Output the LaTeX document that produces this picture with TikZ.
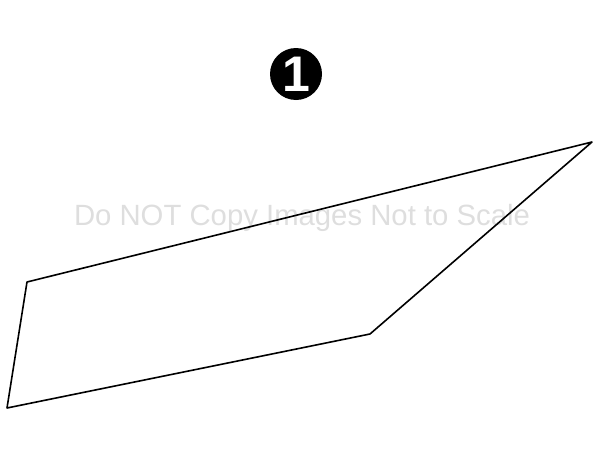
\documentclass[tikz,border=0pt]{standalone}
\usepackage{fontspec}
\setmainfont{Liberation Sans}
\usepackage{tikz}
\usetikzlibrary{positioning}
\tikzstyle{partnum} = [circle, fill=black, text=white, inner sep=0pt,
    minimum size=52pt, font=\fontsize{50}{50}\selectfont\bfseries]
\tikzstyle{stamp} = [text=black!13, font=\fontsize{29.3}{30}\selectfont]
\tikzstyle{outline} = [draw, line width=1.6pt, line join=round]

\begin{document}
\begin{tikzpicture}[x=1pt, y=-1pt]
    \useasboundingbox (0,0) rectangle (600,450);
    \node [partnum] (num) at (296,74) {1};
    \node [stamp] (note) at (302,218) {Do NOT Copy Images Not to Scale};
    \coordinate (tl) at (27,282);
    \coordinate (tip) at (592,142);
    \coordinate (br) at (370,334);
    \coordinate (bl) at (7,408);
    \draw [outline] (tl) -- (tip) -- (br) -- (bl) -- cycle;
\end{tikzpicture}
\end{document}
